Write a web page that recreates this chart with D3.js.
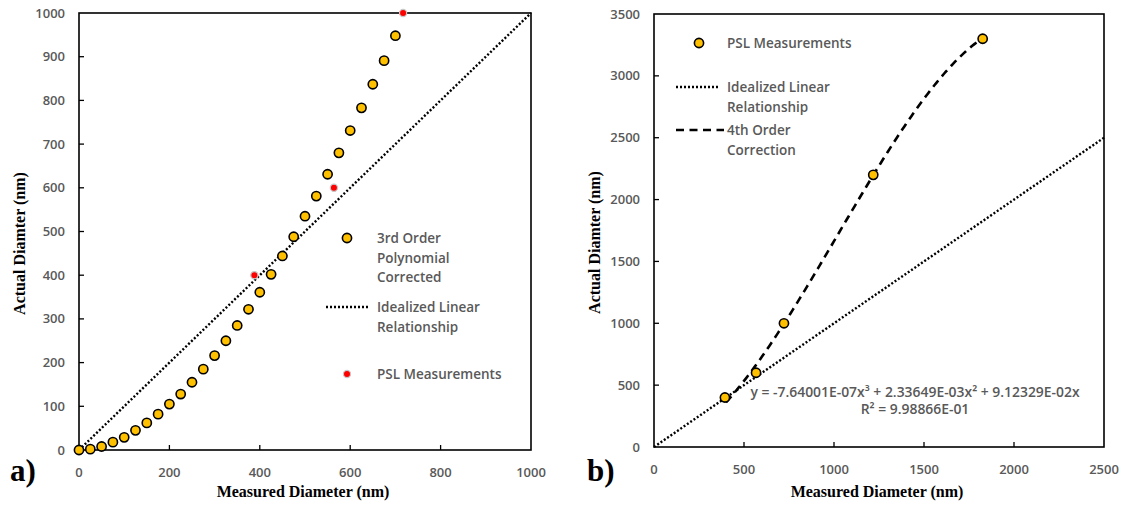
<!DOCTYPE html>
<html>
<head>
<meta charset="utf-8">
<script src="https://cdn.jsdelivr.net/npm/d3@7"></script>
<style>
  html, body { margin: 0; padding: 0; background: #fff; }
  svg { display: block; }
  .tick-label { font-family: "Open Sans", sans-serif; font-size: 13px; font-weight: 600; fill: #595959; }
  .legend-text { font-family: "Open Sans", sans-serif; font-size: 13.5px; font-weight: 600; fill: #595959; }
  .eq-text { font-family: "Open Sans", sans-serif; font-size: 13.9px; font-weight: 600; fill: #595959; }
  .axis-title { font-family: "Liberation Serif", "Times New Roman", serif; font-size: 16px; font-weight: bold; fill: #000; }
  .panel-tag { font-family: "Liberation Serif", "Times New Roman", serif; font-size: 31px; font-weight: bold; fill: #000; }
</style>
</head>
<body>
<svg id="chart" width="1131" height="505"></svg>
<script>
// Panel a: 3rd order polynomial corrected sizes vs measured sizes
const aMeasured  = [0, 25, 50, 75, 100, 125, 150, 175, 200, 225, 250, 275, 300, 325, 350,
                    375, 400, 425, 450, 475, 500, 525, 550, 575, 600, 625, 650, 675, 700];
const aCorrected = [0, 2, 8, 18, 29, 45, 62, 82, 105, 128, 155, 185, 216, 250, 285,
                    322, 361, 402, 444, 488, 535, 581, 631, 680, 731, 783, 837, 891, 948];
const aPslMeasured = [388, 564, 717];
const aPslActual   = [400, 600, 1000];
const aIdeal = [0, 1000];
const aXTicks = [0, 200, 400, 600, 800, 1000];
const aYTicks = [0, 100, 200, 300, 400, 500, 600, 700, 800, 900, 1000];

// Panel b: PSL measurements with fitted correction
const bPslMeasured = [394, 567, 722, 1218, 1826];
const bPslActual   = [400, 600, 1000, 2200, 3300];
const bIdeal = [0, 2500];
const bFitCoef = [-7.64001e-07, 2.33649e-03, 9.12329e-02];   // x^3, x^2, x
const bFitR2 = 9.98866e-01;
const bFitRange = [400, 1826];
const bXTicks = [0, 500, 1000, 1500, 2000, 2500];
const bYTicks = [0, 500, 1000, 1500, 2000, 2500, 3000, 3500];

const svg = d3.select("#chart");
const GOLD = "#FFC000";

function sci(v) {
  const [m, e] = v.toExponential(5).split("e");
  const n = parseInt(e, 10);
  return m + "E" + (n < 0 ? "-" : "+") + String(Math.abs(n)).padStart(2, "0");
}

function frame(g, x, y, xTicks, yTicks) {
  const [x0, x1] = x.range();
  const [y0, y1] = y.range();
  // inward ticks
  g.append("g").selectAll("line").data(xTicks.slice(1, -1)).join("line")
    .attr("x1", d => x(d)).attr("x2", d => x(d))
    .attr("y1", y0).attr("y2", y0 - 5)
    .attr("stroke", "#000").attr("stroke-width", 1.3);
  g.append("g").selectAll("line").data(yTicks.slice(1, -1)).join("line")
    .attr("x1", x0).attr("x2", x0 + 5)
    .attr("y1", d => y(d)).attr("y2", d => y(d))
    .attr("stroke", "#000").attr("stroke-width", 1.3);
  g.append("rect")
    .attr("x", x0).attr("y", y1)
    .attr("width", x1 - x0).attr("height", y0 - y1)
    .attr("fill", "none").attr("stroke", "#000").attr("stroke-width", 1.6);
  // tick labels
  g.append("g").selectAll("text").data(xTicks).join("text")
    .attr("class", "tick-label")
    .attr("x", d => x(d)).attr("y", y0 + 27)
    .attr("text-anchor", "middle")
    .text(d => d);
  g.append("g").selectAll("text").data(yTicks).join("text")
    .attr("class", "tick-label")
    .attr("x", x0 - 14).attr("y", d => y(d) + 4.5)
    .attr("text-anchor", "end")
    .text(d => d);
}

function titles(g, x, y, tag, tagX) {
  const [x0, x1] = x.range();
  const [y0, y1] = y.range();
  g.append("text").attr("class", "axis-title")
    .attr("x", (x0 + x1) / 2 - 2).attr("y", 497)
    .attr("text-anchor", "middle")
    .text("Measured Diameter (nm)");
  g.append("text").attr("class", "axis-title")
    .attr("transform", `translate(${x0 - 54},${(y0 + y1) / 2 + 12}) rotate(-90)`)
    .attr("text-anchor", "middle")
    .text("Actual Diamter (nm)");
  g.append("text").attr("class", "panel-tag")
    .attr("x", tagX).attr("y", 481)
    .text(tag);
}

function goldDot(sel) {
  return sel.attr("r", 4.6).attr("fill", GOLD)
    .attr("stroke", "#000").attr("stroke-width", 1.6);
}
function redDot(sel) {
  return sel.attr("r", 3.6).attr("fill", "#FF0000")
    .attr("stroke", "#c8c8c8").attr("stroke-width", 1.2);
}

const dotted = { dash: "2,2", width: 2.4, color: "#000" };
const dashed = { dash: "8,5.5", width: 2.6, color: "#000" };

// ---------- Panel a ----------
{
  const g = svg.append("g");
  const x = d3.scaleLinear().domain([0, 1000]).range([79, 531]);
  const y = d3.scaleLinear().domain([0, 1000]).range([450, 13]);

  g.append("line")
    .attr("x1", x(aIdeal[0])).attr("y1", y(aIdeal[0]))
    .attr("x2", x(aIdeal[1])).attr("y2", y(aIdeal[1]))
    .attr("stroke", dotted.color).attr("stroke-width", dotted.width)
    .attr("stroke-dasharray", dotted.dash);

  frame(g, x, y, aXTicks, aYTicks);

  g.append("g").selectAll("circle").data(aMeasured).join("circle")
    .attr("cx", d => x(d)).attr("cy", (d, i) => y(aCorrected[i]))
    .call(goldDot);
  g.append("g").selectAll("circle").data(aPslMeasured).join("circle")
    .attr("cx", d => x(d)).attr("cy", (d, i) => y(aPslActual[i]))
    .call(redDot);

  // legend
  const lg = g.append("g");
  lg.append("circle").attr("cx", 347).attr("cy", 238).call(goldDot);
  ["3rd Order", "Polynomial", "Corrected"].forEach((t, i) =>
    lg.append("text").attr("class", "legend-text")
      .attr("x", 377).attr("y", 243 + i * 19.5).text(t));
  lg.append("line").attr("x1", 326).attr("x2", 368).attr("y1", 307).attr("y2", 307)
    .attr("stroke", dotted.color).attr("stroke-width", dotted.width)
    .attr("stroke-dasharray", dotted.dash);
  ["Idealized Linear", "Relationship"].forEach((t, i) =>
    lg.append("text").attr("class", "legend-text")
      .attr("x", 377).attr("y", 312 + i * 19.5).text(t));
  lg.append("circle").attr("cx", 347).attr("cy", 374).call(redDot);
  lg.append("text").attr("class", "legend-text")
    .attr("x", 377).attr("y", 379).text("PSL Measurements");

  titles(g, x, y, "a)", 10);
}

// ---------- Panel b ----------
{
  const g = svg.append("g");
  const x = d3.scaleLinear().domain([0, 2500]).range([654, 1104]);
  const y = d3.scaleLinear().domain([0, 3500]).range([447, 14]);

  g.append("line")
    .attr("x1", x(bIdeal[0])).attr("y1", y(bIdeal[0]))
    .attr("x2", x(bIdeal[1])).attr("y2", y(bIdeal[1]))
    .attr("stroke", dotted.color).attr("stroke-width", dotted.width)
    .attr("stroke-dasharray", dotted.dash);

  // fitted correction curve, from the coefficients shown in the label
  const fit = v => bFitCoef[0] * v ** 3 + bFitCoef[1] * v ** 2 + bFitCoef[2] * v;
  const xs = d3.range(bFitRange[0], bFitRange[1], 10).concat([bFitRange[1]]);
  g.append("path")
    .attr("d", d3.line().x(v => x(v)).y(v => y(fit(v)))(xs))
    .attr("fill", "none")
    .attr("stroke", dashed.color).attr("stroke-width", dashed.width)
    .attr("stroke-dasharray", dashed.dash);

  frame(g, x, y, bXTicks, bYTicks);

  g.append("g").selectAll("circle").data(bPslMeasured).join("circle")
    .attr("cx", d => x(d)).attr("cy", (d, i) => y(bPslActual[i]))
    .call(goldDot);

  // fit equation
  const eq = g.append("text").attr("class", "eq-text")
    .attr("text-anchor", "middle").attr("x", 915);
  eq.append("tspan").attr("x", 915).attr("y", 397)
    .text(`y = ${sci(bFitCoef[0])}x³ + ${sci(bFitCoef[1])}x² + ${sci(bFitCoef[2])}x`);
  eq.append("tspan").attr("x", 915).attr("y", 414)
    .text(`R² = ${sci(bFitR2)}`);

  // legend
  const lg = g.append("g");
  lg.append("circle").attr("cx", 699).attr("cy", 43).call(goldDot);
  lg.append("text").attr("class", "legend-text")
    .attr("x", 727).attr("y", 48).text("PSL Measurements");
  lg.append("line").attr("x1", 676).attr("x2", 718).attr("y1", 87).attr("y2", 87)
    .attr("stroke", dotted.color).attr("stroke-width", dotted.width)
    .attr("stroke-dasharray", dotted.dash);
  ["Idealized Linear", "Relationship"].forEach((t, i) =>
    lg.append("text").attr("class", "legend-text")
      .attr("x", 727).attr("y", 92 + i * 19.5).text(t));
  lg.append("line").attr("x1", 676).attr("x2", 724).attr("y1", 130).attr("y2", 130)
    .attr("stroke", dashed.color).attr("stroke-width", dashed.width)
    .attr("stroke-dasharray", dashed.dash);
  ["4th Order", "Correction"].forEach((t, i) =>
    lg.append("text").attr("class", "legend-text")
      .attr("x", 727).attr("y", 135 + i * 19.5).text(t));

  titles(g, x, y, "b)", 587);
}
</script>
</body>
</html>
